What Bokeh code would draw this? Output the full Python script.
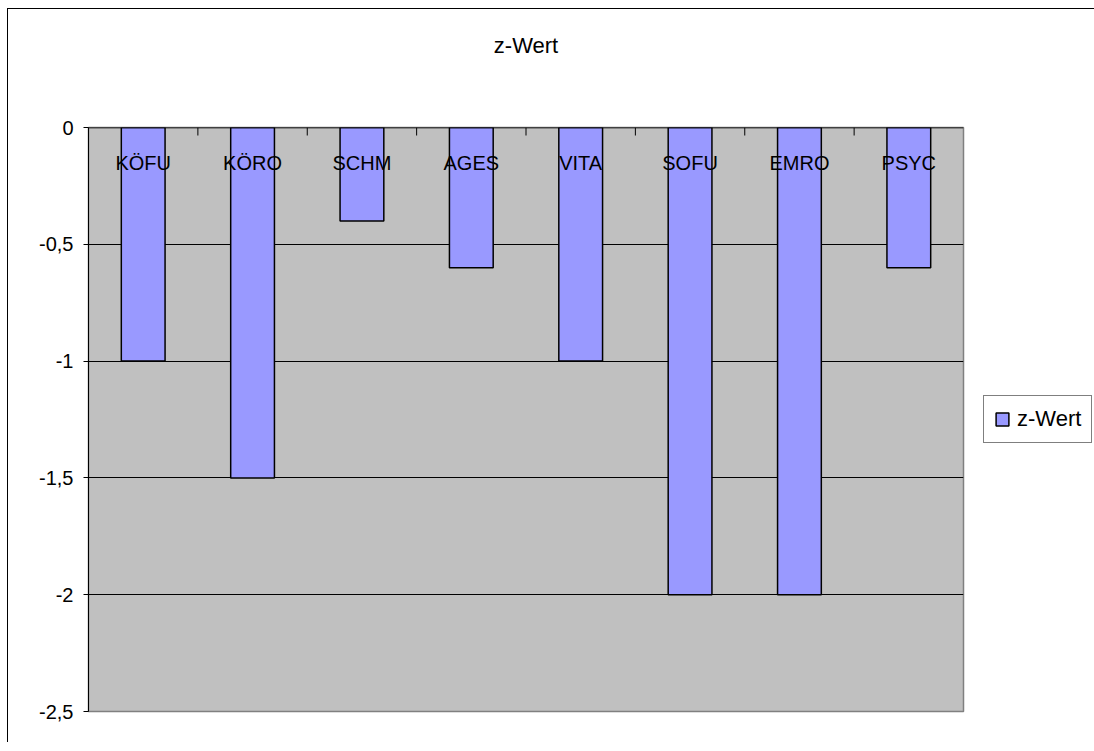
import math
from bokeh.plotting import figure
from bokeh.models import (Range1d, FixedTicker, LinearAxis, Legend, LegendItem,
                          ColumnDataSource, Title)
from bokeh.core.properties import value
from bokeh.embed import file_html
from bokeh.resources import INLINE

categories = ["KÖFU", "KÖRO", "SCHM", "AGES", "VITA", "SOFU", "EMRO", "PSYC"]
z_values = [-1.0, -1.5, -0.4, -0.6, -1.0, -2.0, -2.0, -0.6]
y_ticks = [0, -0.5, -1, -1.5, -2, -2.5]
y_tick_labels = ["0", "-0,5", "-1", "-1,5", "-2", "-2,5"]
series_name = "z-Wert"

FONT = "Liberation Sans"
FS = "20px"
FS_BIG = "22px"
n = len(categories)
xs = [i + 0.5 for i in range(n)]
src = ColumnDataSource(dict(x=xs, top=[0] * n, bottom=z_values, cat=categories))

p = figure(frame_width=875, frame_height=584, output_backend="svg", toolbar_location=None,
           x_range=Range1d(0, n), y_range=Range1d(-2.5, 0),
           min_border_left=80, min_border_right=122, min_border_top=118, min_border_bottom=31,
           x_axis_location=None, y_axis_location=None)
p.styles = {"margin-left": "7px", "margin-top": "8px",
            "border-left": "1px solid black", "border-top": "1px solid black"}

p.border_fill_color = "white"
p.background_fill_color = "#C0C0C0"
p.outline_line_color = "#808080"
p.outline_line_width = 1.5

# title
p.title.text = series_name
p.title.align = "center"
p.title.text_font = FONT
p.title.text_font_size = FS_BIG
p.title.text_font_style = "normal"
p.title.text_color = "black"
p.title.standoff = 10

# spacer between frame and title
spacer = Title(text=" ", text_font_size="10px", standoff=52, text_color="white")
p.add_layout(spacer, "above")

# y axis
yaxis = LinearAxis(ticker=FixedTicker(ticks=y_ticks))
yaxis.major_label_overrides = {t: l for t, l in zip(y_ticks, y_tick_labels)}
yaxis.major_label_text_font = FONT
yaxis.major_label_text_font_size = FS
yaxis.major_label_text_color = "black"
yaxis.major_tick_in = 0
yaxis.major_tick_out = 5
yaxis.minor_tick_in = 0
yaxis.minor_tick_out = 0
yaxis.major_label_standoff = 10
yaxis.axis_line_color = "black"
yaxis.major_tick_line_color = "black"
p.add_layout(yaxis, "left")

p.xgrid.visible = False
p.ygrid.ticker = FixedTicker(ticks=[-0.5, -1, -1.5, -2])
p.ygrid.grid_line_color = "black"
p.ygrid.grid_line_width = 1

bars = p.vbar(x="x", top="top", bottom="bottom", width=0.4, source=src,
              fill_color="#9999FF", line_color="black", line_width=1.5)

# category axis at value 0 (top edge) with ticks between categories
p.hspan(y=[0], line_color="black", line_width=1.5)
p.ray(x=list(range(1, n)), y=[0] * (n - 1), length=8, length_units="screen",
      angle=-math.pi / 2, line_color="black", line_width=1)

p.text(x="x", y="top", text="cat", source=src, text_font=value(FONT),
       text_font_size=FS, text_align="center", text_baseline="middle",
       y_offset=35, text_color="black")

legend = Legend(items=[LegendItem(label=series_name, renderers=[bars])],
                location="center_left", orientation="vertical")
legend.label_text_font = FONT
legend.label_text_font_size = FS_BIG
legend.label_text_color = "black"
legend.border_line_color = "black"
legend.border_line_width = 1
legend.background_fill_color = "white"
legend.glyph_width = 16
legend.glyph_height = 16
legend.label_standoff = 7
legend.padding = 10
legend.margin = 20
legend.spacing = 0
p.add_layout(legend, "right")

open("out.html", "w").write(file_html(p, INLINE))
